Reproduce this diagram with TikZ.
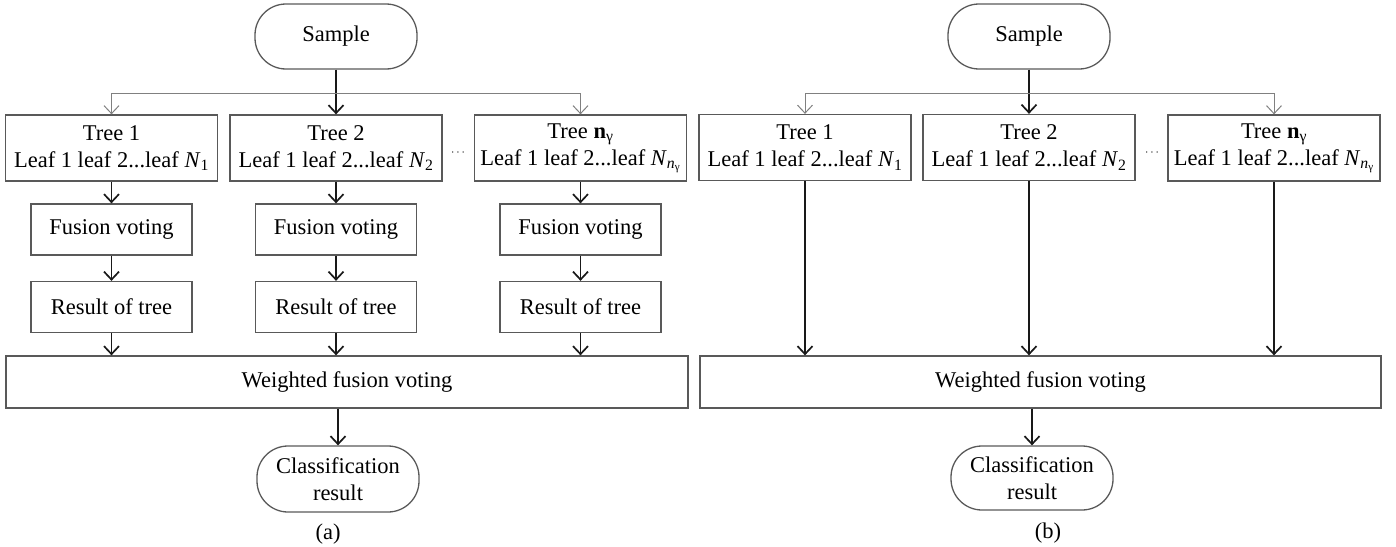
\documentclass[tikz,border=0pt]{standalone}
\usepackage{fontspec}
\setmainfont{Liberation Serif}
\usetikzlibrary{arrows.meta}
\newcommand\dfs{\fontsize{22.5}{27}\selectfont}
\newcommand\dotsfs{\fontsize{12}{14}\selectfont}
\begin{document}
\begin{tikzpicture}[x=1pt,y=-1pt,
  box/.style={draw=black!65,line width=1.3pt,inner sep=0pt,align=center,font=\dfs},
  treebox/.style={box,minimum width=212pt,minimum height=66pt},
  smallbox/.style={box,minimum width=161pt,minimum height=51pt},
  widebox/.style={box,minimum width=682pt,minimum height=52pt},
  term/.style={box,rounded corners=31pt,minimum width=162pt,minimum height=65pt},
  arr/.style={-{Straight Barb[length=8pt,width=15pt]},line width=1.7pt,draw=black!90},
  branch/.style={-{Straight Barb[length=8pt,width=15pt]},line width=1pt,draw=black!50},
  lbl/.style={inner sep=0pt,font=\dfs},
  dotlbl/.style={inner sep=0pt,font=\dotsfs}
]
\useasboundingbox (0,0) rectangle (1396,546);

% ---------------- panel (a) ----------------
\node[term] (Sa) at (336,36.5) {Sample};
\node[treebox] (T1a) at (111.5,148) {Tree 1\\Leaf 1 leaf 2...leaf \textit{N}\textsubscript{1}};
\node[treebox] (T2a) at (336,148) {Tree 2\\Leaf 1 leaf 2...leaf \textit{N}\textsubscript{2}};
\node[treebox] (Tna) at (580.5,148) {Tree \textbf{n}\textsubscript{γ}\\Leaf 1 leaf 2...leaf \textit{N}\textsubscript{\textit{n}\textsubscript{γ}}};
\node[dotlbl] (Da) at (458,153) {$\cdots$};
\node[smallbox] (F1a) at (111.5,229.5) {Fusion voting};
\node[smallbox] (F2a) at (336,229.5) {Fusion voting};
\node[smallbox] (Fna) at (580.5,229.5) {Fusion voting};
\node[smallbox] (R1a) at (111.5,307) {Result of tree};
\node[smallbox] (R2a) at (336,307) {Result of tree};
\node[smallbox] (Rna) at (580.5,307) {Result of tree};
\node[widebox] (Wa) at (347,382) {Weighted fusion voting};
\node[term,minimum height=66pt] (Ca) at (338,479) {Classification\\result};
\node[lbl] (La) at (328,534) {(a)};

\coordinate (Ja) at (336,93);
\draw[arr] (Sa.south) -- (T2a.north);
\draw[branch] (Ja) -| (T1a.north);
\draw[branch] (Ja) -| (Tna.north);
\foreach \i in {1,2,n}{
  \draw[arr] (T\i a.south) -- (F\i a.north);
  \draw[arr] (F\i a.south) -- (R\i a.north);
  \draw[arr] (R\i a.south) -- (R\i a.south |- Wa.north);
}
\draw[arr] (Wa.south -| Ca.north) -- (Ca.north);

% ---------------- panel (b) ----------------
\node[term] (Sb) at (1029,36.5) {Sample};
\node[treebox] (T1b) at (805,147.5) {Tree 1\\Leaf 1 leaf 2...leaf \textit{N}\textsubscript{1}};
\node[treebox] (T2b) at (1029,147.5) {Tree 2\\Leaf 1 leaf 2...leaf \textit{N}\textsubscript{2}};
\node[treebox] (Tnb) at (1274,148) {Tree \textbf{n}\textsubscript{γ}\\Leaf 1 leaf 2...leaf \textit{N}\textsubscript{\textit{n}\textsubscript{γ}}};
\node[dotlbl] (Db) at (1152,153) {$\cdots$};
\node[widebox,minimum width=681pt] (Wb) at (1040.5,382) {Weighted fusion voting};
\node[term,minimum height=64pt] (Cb) at (1032,478) {Classification\\result};
\node[lbl] (Lb) at (1048,533) {(b)};

\coordinate (Jb) at (1029,93);
\draw[arr] (Sb.south) -- (T2b.north);
\draw[branch] (Jb) -| (T1b.north);
\draw[branch] (Jb) -| (Tnb.north);
\foreach \i in {1,2,n}{
  \draw[arr] (T\i b.south) -- (T\i b.south |- Wb.north);
}
\draw[arr] (Wb.south -| Cb.north) -- (Cb.north);
\end{tikzpicture}
\end{document}
